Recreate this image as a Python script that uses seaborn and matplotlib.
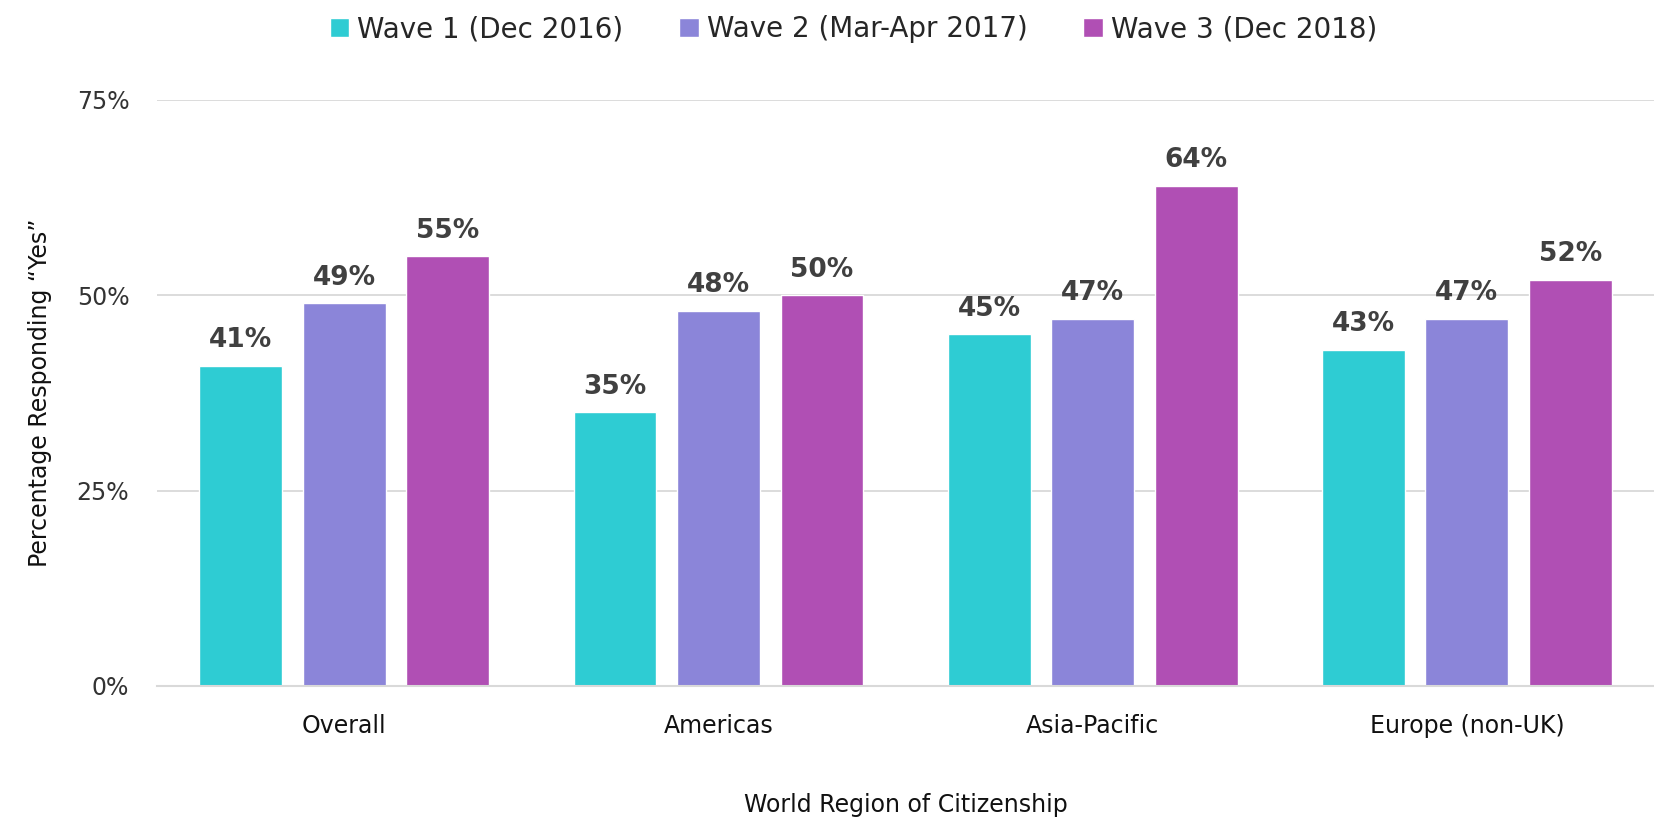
import pandas as pd
import numpy as np
import matplotlib.pyplot as plt
import seaborn as sns
from matplotlib.ticker import FuncFormatter

# data
regions = ["Overall", "Americas", "Asia-Pacific", "Europe (non-UK)"]
waves = ["Wave 1 (Dec 2016)", "Wave 2 (Mar-Apr 2017)", "Wave 3 (Dec 2018)"]
wave1 = [41, 35, 45, 43]
wave2 = [49, 48, 47, 47]
wave3 = [55, 50, 64, 52]
colors = ["#2ECCD3", "#8B85D9", "#B04FB4"]

df = pd.DataFrame({
    "region": regions * 3,
    "wave": [w for w in waves for _ in regions],
    "value": wave1 + wave2 + wave3,
})

sns.set_style("white")
plt.rcParams["font.family"] = ["DejaVu Sans"]

fig = plt.figure(figsize=(16.54, 8.25), dpi=100)
ax = fig.add_axes([0.095, 0.1685, 0.905, 0.7105])

sns.barplot(data=df, x="region", y="value", hue="wave", palette=colors,
            width=0.83, gap=0.2, ax=ax, saturation=1, legend=True)

ax.set_ylim(0, 75)
ax.set_yticks([0, 25, 50, 75])
ax.yaxis.set_major_formatter(FuncFormatter(lambda v, p: f"{v:.0f}%"))
ax.grid(axis="y", color="#D9D9D9", linewidth=1.3)
ax.set_axisbelow(True)
for s in ["top", "right", "left"]:
    ax.spines[s].set_visible(False)
ax.spines["bottom"].set_color("#D9D9D9")
ax.spines["bottom"].set_linewidth(1.5)

# ticks between categories
ax.set_xlim(-0.5, len(regions) - 0.5)
ax.set_xticks(np.arange(len(regions) + 1) - 0.5, minor=True)
ax.tick_params(axis="x", which="minor", length=10, color="#D9D9D9", width=1.5)
ax.tick_params(axis="x", which="major", length=0, labelsize=17, labelcolor="#111111", pad=20)
ax.tick_params(axis="y", length=0, labelsize=17, labelcolor="#333333", pad=20)

for c in ax.containers:
    ax.bar_label(c, labels=[f"{v:.0f}%" for v in c.datavalues], padding=9,
                 fontsize=19, fontweight="bold", color="#404040")

ax.set_xlabel("World Region of Citizenship", fontsize=17, labelpad=40, color="#111111")
ax.set_ylabel("Percentage Responding \u201cYes\u201d", fontsize=17, labelpad=18, color="#111111")

handles, labels = ax.get_legend_handles_labels()
ax.legend_.remove()
fig.legend(handles, labels, loc="upper center", bbox_to_anchor=(0.516, 1.012),
           ncol=3, frameon=False, fontsize=20, handlelength=0.7, handleheight=0.7,
           handletextpad=0.3, columnspacing=2.0)

fig.savefig("out.png", dpi=100)
